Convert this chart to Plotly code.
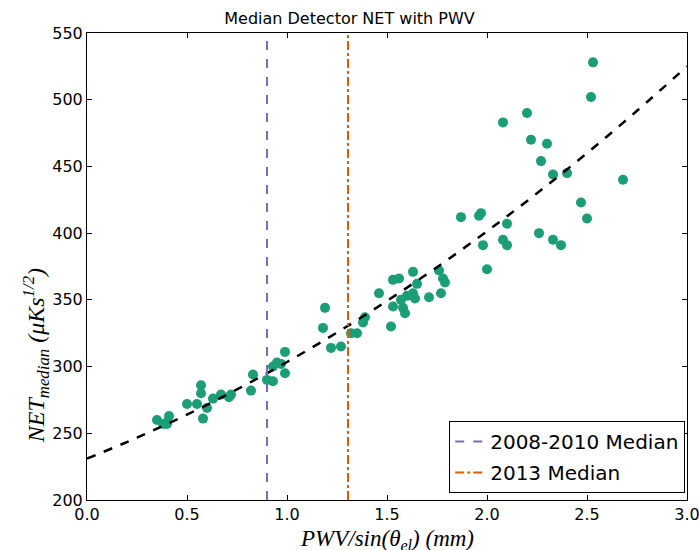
import plotly.graph_objects as go

# Scatter data
pwv = [0.35, 0.38, 0.40, 0.41, 0.40, 0.50, 0.55, 0.57, 0.57, 0.58, 0.60, 0.63, 0.67, 0.72, 0.71,
       0.82, 0.83, 0.90, 0.93, 0.93, 0.95, 0.97, 0.99, 0.99, 1.18, 1.19, 1.22, 1.27, 1.32, 1.35,
       1.38, 1.39, 1.46, 1.52, 1.53, 1.53, 1.56, 1.57, 1.58, 1.59, 1.60, 1.63, 1.63, 1.64, 1.65,
       1.71, 1.76, 1.78, 1.77, 1.79, 1.87, 1.96, 1.97, 1.98, 2.00, 2.08, 2.08, 2.10, 2.10, 2.20,
       2.22, 2.26, 2.27, 2.30, 2.33, 2.33, 2.37, 2.40, 2.47, 2.50, 2.52, 2.53, 2.68]
net = [260, 257, 258, 263, 257, 272, 272, 286, 280, 261, 269, 276, 279, 279, 277,
       282, 294, 290, 289, 300, 303, 302, 311, 295, 329, 344, 314, 315, 325, 325,
       333, 337, 355, 330, 345, 365, 366, 350, 344, 340, 353, 371, 355, 351, 362,
       352, 372, 366, 355, 363, 412, 413, 415, 391, 373, 483, 395, 391, 407, 490,
       470, 400, 454, 467, 444, 395, 391, 445, 423, 411, 502, 528, 440]

# Fit curve points
fit_x = [0.0, 0.25, 0.5, 0.75, 1.0, 1.25, 1.5, 1.75, 2.0, 2.25, 2.5, 2.75, 3.0]
fit_y = [231, 246.7, 264.0, 282.9, 303.4, 325.5, 349.2, 374.5, 401.4, 429.9, 460.0, 491.7, 525]

median_0810 = 0.90
median_2013 = 1.305

x_ticks = [0.0, 0.5, 1.0, 1.5, 2.0, 2.5, 3.0]
y_ticks = [200, 250, 300, 350, 400, 450, 500, 550]

fig = go.Figure()
fig.add_trace(go.Scatter(x=pwv, y=net, mode="markers",
                         marker=dict(color="#1b9e77", size=10, line=dict(width=0)),
                         showlegend=False))
fig.add_trace(go.Scatter(x=fit_x, y=fit_y, mode="lines",
                         line=dict(color="black", width=2.5, dash="dash", shape="spline"),
                         showlegend=False))
fig.add_trace(go.Scatter(x=[median_0810, median_0810], y=[200, 550], mode="lines",
                         line=dict(color="#7570b3", width=2, dash="dash"),
                         name="2008-2010 Median", legendgroup="a"))
fig.add_trace(go.Scatter(x=[median_2013, median_2013], y=[200, 550], mode="lines",
                         line=dict(color="#d95f02", width=2, dash="dashdot"),
                         name="2013 Median", legendgroup="b"))

axis_common = dict(showgrid=False, zeroline=False, showline=True, linecolor="black",
                   linewidth=1, mirror="ticks", ticks="inside", ticklen=5,
                   tickcolor="black", automargin=False, ticklabeloverflow="allow",
                   tickfont=dict(family="DejaVu Sans", size=16, color="black"))

fig.update_xaxes(range=[0, 3.0], tickvals=x_ticks, ticktext=[f"{v:.1f}" for v in x_ticks],
                 **axis_common)
fig.update_yaxes(range=[200, 550], tickvals=y_ticks, **axis_common)

title_font = dict(family="Liberation Serif", size=23, color="black")
fig.add_annotation(text="<i>PWV/sin(θ<sub>el</sub>) (mm)</i>", xref="paper", yref="paper",
                   x=0.5, y=-0.085, xanchor="center", yanchor="middle",
                   showarrow=False, font=title_font)
fig.add_annotation(text="<i>NET<sub>median</sub> (μKs<sup>1/2</sup>)</i>", xref="paper", yref="paper",
                   x=-0.085, y=0.31, xanchor="center", yanchor="middle", textangle=-90,
                   showarrow=False, font=dict(family="Liberation Serif", size=24, color="black"))

fig.update_layout(
    width=699, height=550,
    margin=dict(l=87, r=12, t=33, b=50),
    paper_bgcolor="white", plot_bgcolor="white",
    title=dict(text="Median Detector NET with PWV", x=0.5, xanchor="center",
               y=0.967, yanchor="middle",
               font=dict(family="DejaVu Sans", size=16, color="black")),
    legend=dict(x=0.997, y=0.015, xanchor="right", yanchor="bottom",
                bgcolor="white", bordercolor="black", borderwidth=1,
                tracegroupgap=2, itemwidth=30,
                font=dict(family="DejaVu Sans", size=20, color="black")),
)

fig.write_html("out.html", config={"displayModeBar": False},
               post_script="document.body.style.margin='0';document.body.style.overflow='hidden';")
